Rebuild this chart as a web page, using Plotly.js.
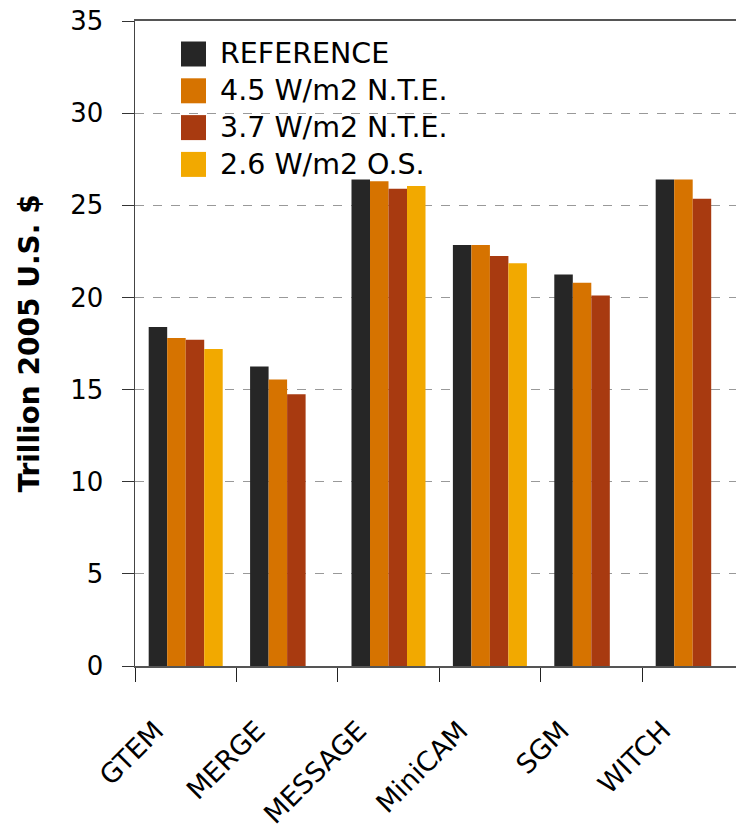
<!DOCTYPE html>
<html>
<head>
<meta charset="utf-8">
<script src="https://cdn.plot.ly/plotly-3.0.1.min.js"></script>
<style>html,body{margin:0;padding:0;background:#fff;}#chart{width:736px;height:832px;}</style>
</head>
<body>
<div id="chart"></div>
<script>
const categories = ["GTEM", "MERGE", "MESSAGE", "MiniCAM", "SGM", "WITCH"];
const seriesNames = ["REFERENCE", "4.5 W/m2 N.T.E.", "3.7 W/m2 N.T.E.", "2.6 W/m2 O.S."];
const reference = [18.4, 16.25, 26.4, 22.85, 21.25, 26.4];
const nte45 = [17.8, 15.55, 26.3, 22.85, 20.8, 26.4];
const nte37 = [17.7, 14.75, 25.9, 22.25, 20.1, 25.35];
const os26 = [17.2, null, 26.05, 21.85, null, null];
const colors = ["#262626", "#D67300", "#A83A10", "#F2A900"];
const yTicks = [0, 5, 10, 15, 20, 25, 30, 35];

const values = [reference, nte45, nte37, os26];
const FONT = "'DejaVu Sans', sans-serif";

// plot area geometry (pixels) used to place the legend
const W = 736, H = 832, ML = 135, MR = 0, MT = 21, MB = 166;
const PW = W - ML - MR, PH = H - MT - MB;
const px = x => (x - ML) / PW;
const py = y => (H - MB - y) / PH;

const traces = values.map((v, i) => ({
  type: "bar",
  name: seriesNames[i],
  x: categories,
  y: v,
  marker: {color: colors[i], line: {width: 0}},
  hoverinfo: "skip",
  showlegend: false
}));

// custom legend (large square swatches like the original)
const legX0 = 181, legSize = 25, legTextX = 218, legY0 = 54, legStep = 36.8;
const shapes = seriesNames.map((n, i) => ({
  type: "rect", xref: "paper", yref: "paper", layer: "above",
  x0: px(legX0), x1: px(legX0 + legSize),
  y0: py(legY0 + i * legStep - legSize / 2), y1: py(legY0 + i * legStep + legSize / 2),
  fillcolor: colors[i], line: {width: 0}
}));
const annotations = seriesNames.map((n, i) => ({
  xref: "paper", yref: "paper", showarrow: false,
  x: px(legTextX), y: py(legY0 + i * legStep),
  xanchor: "left", yanchor: "middle",
  text: n,
  font: {family: FONT, size: 28.5, color: "#000"}
}));

const layout = {
  width: W,
  height: H,
  margin: {l: ML, r: MR, t: MT, b: MB},
  paper_bgcolor: "#fff",
  plot_bgcolor: "#fff",
  barmode: "group",
  bargap: 0.27,
  bargroupgap: 0,
  showlegend: false,
  shapes: shapes,
  annotations: annotations,
  font: {family: FONT, color: "#000"},
  xaxis: {
    type: "category",
    range: [-0.5, 5.427],
    tickson: "boundaries",
    ticks: "outside",
    ticklen: 14,
    tickcolor: "#222",
    tickwidth: 1,
    showline: true,
    linecolor: "#555",
    linewidth: 2,
    mirror: true,
    showgrid: false,
    tickangle: -45,
    ticklabelstandoff: 36,
    ticklabelshift: -30,
    tickfont: {family: FONT, size: 27, color: "#000"}
  },
  yaxis: {
    range: [0, 35],
    tickvals: yTicks,
    ticktext: yTicks.map(String),
    ticks: "outside",
    ticklen: 12,
    tickcolor: "#333",
    tickwidth: 1,
    showline: true,
    linecolor: "#444",
    linewidth: 1.5,
    showgrid: true,
    gridcolor: "#999",
    griddash: "dash",
    gridwidth: 1,
    zeroline: false,
    ticklabelstandoff: 13,
    tickfont: {family: FONT, size: 26, color: "#000"},
    title: {text: "<b>Trillion 2005 U.S. $</b>", font: {family: FONT, size: 28, color: "#000"}, standoff: 22}
  }
};

Plotly.newPlot("chart", traces, layout, {displayModeBar: false, staticPlot: true});
</script>
</body>
</html>
